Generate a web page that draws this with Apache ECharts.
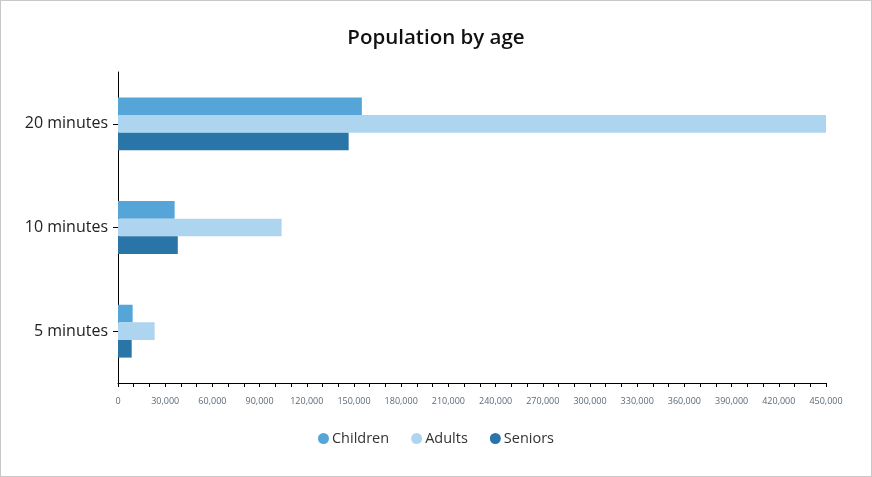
<!DOCTYPE html>
<html>
<head>
<meta charset="utf-8">
<script src="https://cdn.jsdelivr.net/npm/echarts@6/dist/echarts.min.js"></script>
<style>
html,body{margin:0;padding:0;background:#fff;}
#wrap{position:absolute;left:0;top:0;width:870px;height:475px;border:1px solid #c8c8c8;}
#chart{width:870px;height:475px;}
</style>
</head>
<body>
<div id="wrap"><div id="chart"></div></div>
<script>
const categories = ['5 minutes', '10 minutes', '20 minutes'];
const children = [9300, 36000, 155000];
const adults = [23300, 104000, 450000];
const seniors = [8700, 38000, 146600];
const seriesNames = ['Children', 'Adults', 'Seniors'];
const colors = ['#56a5d9', '#aed5f0', '#2a75a8'];

const chart = echarts.init(document.getElementById('chart'));
const fontFamily = '"Open Sans", "Noto Sans", sans-serif';
chart.setOption({
  animation: false,
  color: colors,
  title: {
    text: 'Population by age',
    left: 'center',
    top: 22,
    textStyle: {fontFamily: fontFamily, fontSize: 20.5, fontWeight: 600, color: '#111'}
  },
  legend: {
    top: 425,
    left: 'center',
    icon: 'circle',
    itemWidth: 11,
    itemHeight: 11,
    itemGap: 22,
    textStyle: {fontFamily: fontFamily, fontSize: 14.5, color: '#333', padding: [0, 0, 0, -2]},
    data: seriesNames
  },
  grid: {left: 117, right: 45, top: 71, bottom: 93},
  xAxis: {
    type: 'value',
    min: 0,
    max: 450000,
    interval: 30000,
    axisLine: {show: true, lineStyle: {color: '#000'}},
    axisTick: {show: true, length: 4, lineStyle: {color: '#000'}},
    minorTick: {show: true, splitNumber: 3, length: 4, lineStyle: {color: '#000'}},
    splitLine: {show: false},
    axisLabel: {
      fontFamily: fontFamily, fontSize: 9, color: '#5a6a7a', margin: 14,
      formatter: v => v.toLocaleString('en-US')
    }
  },
  yAxis: {
    type: 'category',
    data: categories,
    axisLine: {show: true, lineStyle: {color: '#000'}},
    axisTick: {show: true, alignWithLabel: true, length: 5, lineStyle: {color: '#000'}},
    axisLabel: {fontFamily: fontFamily, fontSize: 16, color: '#222', margin: 10}
  },
  series: [
    {name: seriesNames[0], type: 'bar', data: children, barGap: '0%', barCategoryGap: '49%'},
    {name: seriesNames[1], type: 'bar', data: adults, barGap: '0%', barCategoryGap: '49%'},
    {name: seriesNames[2], type: 'bar', data: seniors, barGap: '0%', barCategoryGap: '49%'}
  ]
});
</script>
</body>
</html>
